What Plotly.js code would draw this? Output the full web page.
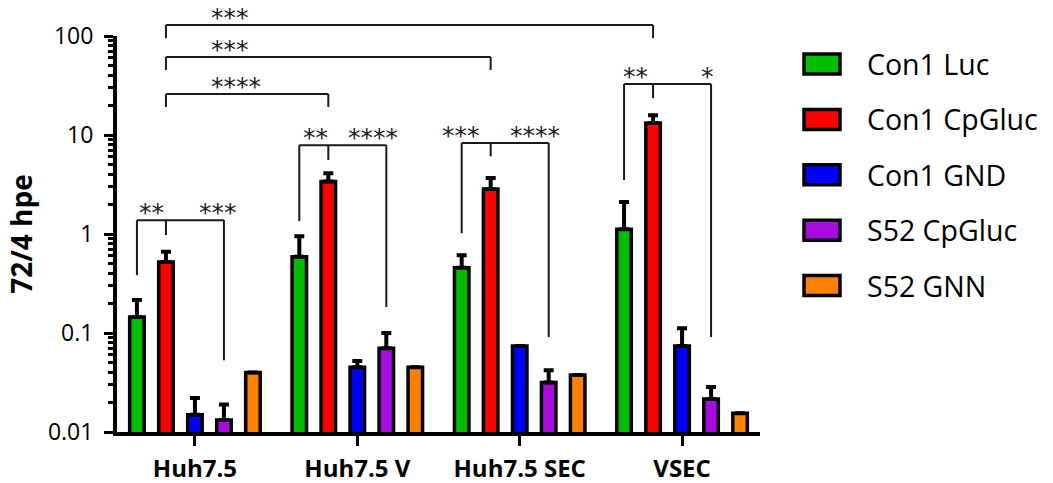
<!DOCTYPE html>
<html>
<head>
<meta charset="utf-8">
<script src="https://cdn.plot.ly/plotly-3.0.1.min.js"></script>
<style>html,body{margin:0;padding:0;background:#fff;}#chart{width:1053px;height:483px;}</style>
</head>
<body>
<div id="chart"></div>
<script>
// ---- data ----
const categories = ["Huh7.5", "Huh7.5 V", "Huh7.5 SEC", "VSEC"];
const seriesNames = ["Con1 Luc", "Con1 CpGluc", "Con1 GND", "S52 CpGluc", "S52 GNN"];
const seriesColors = ["#00bf00", "#ff0000", "#0000ff", "#a80ce0", "#ff8000"];

const con1Luc      = [0.145, 0.59, 0.455, 1.12];
const con1LucTop   = [0.215, 0.95, 0.61, 2.1];
const con1CpGluc    = [0.52, 3.4, 2.85, 13.2];
const con1CpGlucTop = [0.66, 4.1, 3.68, 15.8];
const con1GND      = [0.0149, 0.045, 0.074, 0.074];
const con1GNDTop   = [0.022, 0.052, null, 0.112];
const s52CpGluc    = [0.0132, 0.070, 0.0316, 0.0215];
const s52CpGlucTop = [0.019, 0.10, 0.042, 0.0285];
const s52GNN       = [0.040, 0.045, 0.0377, 0.0155];
const s52GNNTop    = [null, null, null, null];

const seriesValues = [con1Luc, con1CpGluc, con1GND, s52CpGluc, s52GNN];
const seriesTops   = [con1LucTop, con1CpGlucTop, con1GNDTop, s52CpGlucTop, s52GNNTop];

const yTickVals = [0.01, 0.1, 1, 10, 100];
const yTickText = ["0.01", "0.1", "1", "10", "100"];

// significance brackets between groups: [fromGroup, fromSeries, toGroup, toSeries, label, level, dropEnd]
const crossBrackets = [
  [0, 1, 3, 1, "***", 129, 95],
  [0, 1, 2, 1, "***", 61.4, 45.4],
  [0, 1, 1, 1, "****", 26, 19.2]
];
// within-group brackets: [group, level, leftEnd, rightEnd, midEnd, leftLabel, leftLabelPos, rightLabel, rightLabelPos]
const groupBrackets = [
  [0, 1.38, 0.385, 0.053, 0.977, "**", 0.07, "***", 2.14],
  [1, 7.9, 1.35, 0.183, 5.6, "**", 0.14, "****", 1.69],
  [2, 8.3, 1.02, 0.091, 6.1, "***", -0.66, "****", 1.69],
  [3, 32.7, 3.5, 0.091, 23.6, "**", -0.03, "*", 2.66]
];

// ---- layout geometry ----
const bargap = 0.107;
const nSeries = seriesNames.length;
const slot = (1 - bargap) / nSeries;
const xRange = [-0.48, 3.48];
const yRange = [-2, 2];

function xp(g, s) { return (g + (s - (nSeries - 1) / 2) * slot - xRange[0]) / (xRange[1] - xRange[0]); }
function yp(v) { return (Math.log10(v) - yRange[0]) / (yRange[1] - yRange[0]); }

const traces = seriesNames.map((name, i) => ({
  type: "bar",
  name: name,
  x: categories,
  y: seriesValues[i],
  marker: { color: seriesColors[i], line: { color: "#000", width: 3.5 } },
  error_y: {
    type: "data", symmetric: false,
    array: seriesTops[i].map((t, k) => t == null ? null : t - seriesValues[i][k]),
    arrayminus: seriesTops[i].map(t => t == null ? null : 0),
    color: "#000", thickness: 4, width: 5
  },
  showlegend: false,
  hoverinfo: "skip"
}));

const shapes = [];
const annotations = [];
const lineStyle = { color: "#1a1a1a", width: 2 };
const starFont = { family: "DejaVu Sans", size: 25, color: "#222" };

function seg(x0, y0, x1, y1) {
  shapes.push({ type: "line", xref: "paper", yref: "paper", x0: x0, y0: y0, x1: x1, y1: y1, line: lineStyle });
}
function star(x, yLevel, text) {
  annotations.push({ xref: "paper", yref: "paper", x: x, y: yp(yLevel), text: text, showarrow: false,
    xanchor: "left", yanchor: "bottom", yshift: -9, font: starFont });
}

crossBrackets.forEach(b => {
  const xa = xp(b[0], b[1]), xb = xp(b[2], b[3]);
  seg(xa, yp(b[5]), xb, yp(b[5]));
  seg(xa, yp(b[5]), xa, yp(b[6]));
  seg(xb, yp(b[5]), xb, yp(b[6]));
  star(xp(0, 2.5), b[5], b[4]);
});

groupBrackets.forEach(b => {
  const g = b[0];
  const xl = xp(g, 0), xm = xp(g, 1), xr = xp(g, 3);
  seg(xl, yp(b[1]), xr, yp(b[1]));
  seg(xl, yp(b[1]), xl, yp(b[2]));
  seg(xr, yp(b[1]), xr, yp(b[3]));
  seg(xm, yp(b[1]), xm, yp(b[4]));
  star(xp(g, b[6] - 0.08), b[1], b[5]);
  star(xp(g, b[8] - 0.08), b[1], b[7]);
});

// custom legend
seriesNames.forEach((name, i) => {
  const yc = 64 + i * 55.4; // pixel centre from top
  shapes.push({ type: "rect", xref: "paper", yref: "paper",
    x0: (804 - 117) / 643, x1: (840 - 117) / 643,
    y0: (432 - (yc - 10)) / 396, y1: (432 - (yc + 10)) / 396,
    fillcolor: seriesColors[i], line: { color: "#000", width: 3.5 } });
  annotations.push({ xref: "paper", yref: "paper", x: (865 - 117) / 643, y: (432 - yc) / 396,
    text: name, showarrow: false, xanchor: "left", yanchor: "middle",
    font: { family: "Open Sans", size: 28.5, color: "#000" } });
});

const minorVals = [];
[0.01, 0.1, 1, 10].forEach(d => { for (let k = 2; k <= 9; k++) minorVals.push(d * k); });

const layout = {
  width: 1053, height: 483,
  margin: { l: 117, r: 293, t: 36, b: 51 },
  paper_bgcolor: "#fff", plot_bgcolor: "#fff",
  barmode: "group", bargap: bargap, bargroupgap: 0.5,
  showlegend: false,
  xaxis: {
    type: "category", range: xRange, showgrid: false, zeroline: false,
    showline: true, linecolor: "#000", linewidth: 4,
    ticks: "outside", ticklen: 10, tickwidth: 3, tickcolor: "#000",
    tickfont: { family: "Open Sans", size: 24, color: "#000", weight: "bold" },
    ticklabelstandoff: 2
  },
  yaxis: {
    type: "log", range: yRange, showgrid: false, zeroline: false,
    showline: true, linecolor: "#000", linewidth: 4,
    tickmode: "array", tickvals: yTickVals, ticktext: yTickText,
    ticks: "outside", ticklen: 9, tickwidth: 3, tickcolor: "#000",
    minor: { tickmode: "array", tickvals: minorVals, ticks: "outside", ticklen: 5, tickwidth: 3, tickcolor: "#000", showgrid: false },
    tickfont: { family: "Open Sans", size: 23, color: "#000" },
    ticklabelstandoff: 6,
    title: { text: "72/4 hpe", font: { family: "Open Sans", size: 28, color: "#000", weight: "bold" }, standoff: 8 }
  },
  shapes: shapes,
  annotations: annotations
};

Plotly.newPlot("chart", traces, layout, { displayModeBar: false, staticPlot: true });
</script>
</body>
</html>
